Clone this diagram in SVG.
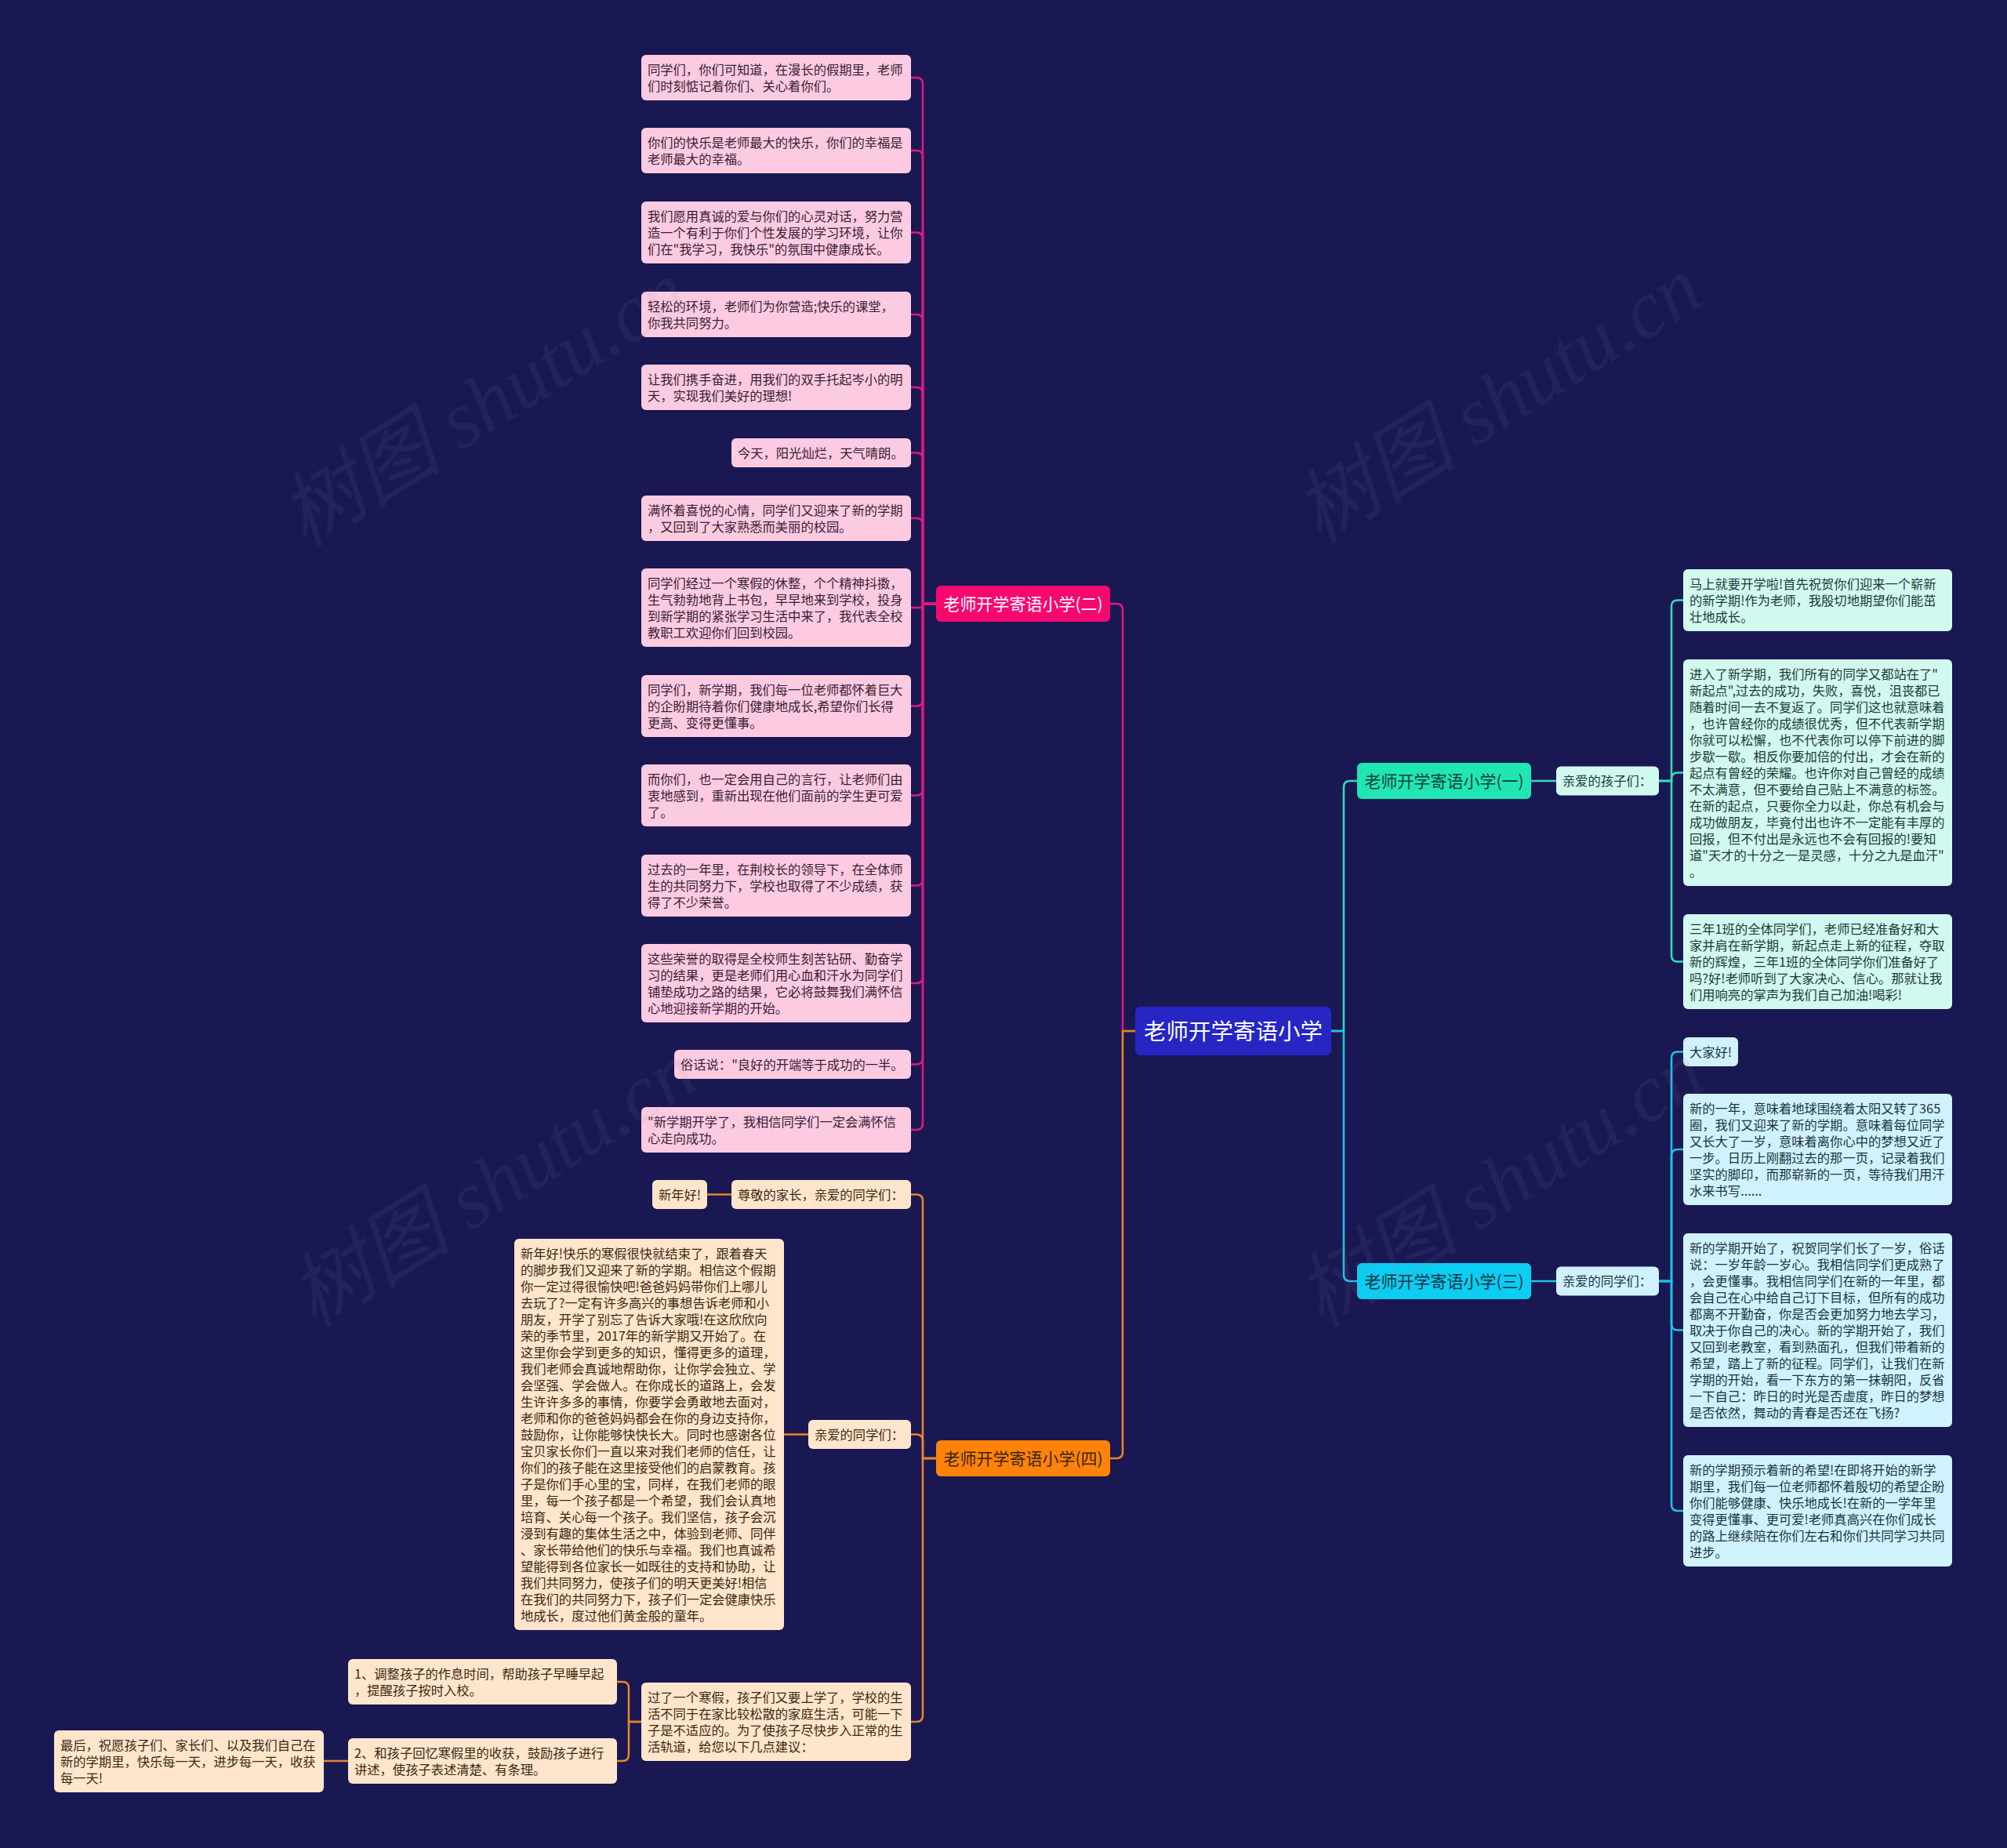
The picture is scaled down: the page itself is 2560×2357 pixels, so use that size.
<svg xmlns="http://www.w3.org/2000/svg" width="2560" height="2357" viewBox="0 0 2560 2357">
<style>
text{font-family:"Noto Sans CJK SC","Noto Sans",sans-serif;}
.t{font-size:16.3px;}
.pk{fill:#fccbe1;}
.pkt{fill:#3a2033;}
.or{fill:#fee5cb;}
.ort{fill:#3b2814;}
.mn{fill:#d1f9f0;}
.mnt{fill:#1d3a36;}
.cy{fill:#d0f2fc;}
.cyt{fill:#1b3440;}
.c{fill:none;stroke-width:2.6;stroke-linecap:round;}
.cp{stroke:#df1a7c;}
.co{stroke:#e8832a;}
.cm{stroke:#34dbb8;}
.cc{stroke:#1fc1e8;}
.wm{font-family:"Liberation Serif","Noto Sans CJK SC",serif;font-style:italic;font-size:104px;fill:#8a8aa8;opacity:0.09;text-anchor:middle;}
</style>
<rect width="2560" height="2357" fill="#1a1852"/>

<g id="connectors">
<path class="c cp" d="M1448,1315 H1432 V778 Q1432,770 1424,770 H1416"/>
<path class="c co" d="M1448,1315 H1432 V1852 Q1432,1860 1424,1860 H1416"/>
<path class="c cm" d="M1698,1315 H1714 V1004 Q1714,996 1722,996 H1731"/>
<path class="c cc" d="M1698,1315 H1714 V1626 Q1714,1634 1722,1634 H1731"/>

<path class="c cp" d="M1194,770 H1177 V107 Q1177,99 1169,99 H1162"/>
<path class="c cp" d="M1194,770 H1177 V200 Q1177,192 1169,192 H1162"/>
<path class="c cp" d="M1194,770 H1177 V304.5 Q1177,296.5 1169,296.5 H1162"/>
<path class="c cp" d="M1194,770 H1177 V409 Q1177,401 1169,401 H1162"/>
<path class="c cp" d="M1194,770 H1177 V502 Q1177,494 1169,494 H1162"/>
<path class="c cp" d="M1194,770 H1177 V585.5 Q1177,577.5 1169,577.5 H1162"/>
<path class="c cp" d="M1194,770 H1177 V669 Q1177,661 1169,661 H1162"/>
<path class="c cp" d="M1194,770 H1177 V772.5 Q1177,775 1174.5,775 H1162"/>
<path class="c cp" d="M1194,770 H1177 V892.5 Q1177,900.5 1169,900.5 H1162"/>
<path class="c cp" d="M1194,770 H1177 V1006.5 Q1177,1014.5 1169,1014.5 H1162"/>
<path class="c cp" d="M1194,770 H1177 V1121.5 Q1177,1129.5 1169,1129.5 H1162"/>
<path class="c cp" d="M1194,770 H1177 V1246 Q1177,1254 1169,1254 H1162"/>
<path class="c cp" d="M1194,770 H1177 V1349.5 Q1177,1357.5 1169,1357.5 H1162"/>
<path class="c cp" d="M1194,770 H1177 V1433 Q1177,1441 1169,1441 H1162"/>

<path class="c cm" d="M1953,996 H1985"/>
<path class="c cm" d="M2116,996 H2132 V773.5 Q2132,765.5 2140,765.5 H2147"/>
<path class="c cm" d="M2116,996 H2132 V993.5 Q2132,985.5 2140,985.5 H2147"/>
<path class="c cm" d="M2116,996 H2132 V1218.5 Q2132,1226.5 2140,1226.5 H2147"/>

<path class="c cc" d="M1953,1634 H1985"/>
<path class="c cc" d="M2116,1634 H2132 V1349.5 Q2132,1341.5 2140,1341.5 H2147"/>
<path class="c cc" d="M2116,1634 H2132 V1474 Q2132,1466 2140,1466 H2147"/>
<path class="c cc" d="M2116,1634 H2132 V1688.5 Q2132,1696.5 2140,1696.5 H2147"/>
<path class="c cc" d="M2116,1634 H2132 V1919 Q2132,1927 2140,1927 H2147"/>

<path class="c co" d="M1194,1860 H1177 V1531.5 Q1177,1523.5 1169,1523.5 H1162"/>
<path class="c co" d="M1194,1860 H1177 V1837.5 Q1177,1829.5 1169,1829.5 H1162"/>
<path class="c co" d="M1194,1860 H1177 V2188 Q1177,2196 1169,2196 H1162"/>
<path class="c co" d="M933,1523.5 H902"/>
<path class="c co" d="M1031,1829.5 H1000"/>
<path class="c co" d="M818,2196 H802 V2153 Q802,2145 794,2145 H787"/>
<path class="c co" d="M818,2196 H802 V2238 Q802,2246 794,2246 H787"/>
<path class="c co" d="M444,2246 H413"/>
</g>

<g id="root">
<rect x="1448" y="1284" width="250" height="62" rx="7" fill="#2626c4"/>
<text x="1573" y="1326" font-size="28.5" fill="#ffffff" text-anchor="middle">老师开学寄语小学</text>
</g>

<g id="b2">
<rect x="1194" y="747" width="222" height="46" rx="6" fill="#f5096f"/>
<text x="1305" y="778" font-size="21" fill="#ffffff" text-anchor="middle">老师开学寄语小学(二)</text>
</g>
<g id="b4">
<rect x="1194" y="1837" width="222" height="46" rx="6" fill="#ff8209"/>
<text x="1305" y="1868" font-size="21" fill="#3a2410" text-anchor="middle">老师开学寄语小学(四)</text>
</g>
<g id="b1">
<rect x="1731" y="973" width="222" height="46" rx="6" fill="#20e6b4"/>
<text x="1842" y="1004" font-size="21" fill="#0f3f35" text-anchor="middle">老师开学寄语小学(一)</text>
</g>
<g id="b3">
<rect x="1731" y="1611" width="222" height="46" rx="6" fill="#0ccdf2"/>
<text x="1842" y="1642" font-size="21" fill="#0c3343" text-anchor="middle">老师开学寄语小学(三)</text>
</g>

<g id="p1"><rect class="pk" x="818" y="70" width="344" height="58" rx="6"/>
<text class="t pkt" x="826" y="94.5"><tspan x="826">同学们，你们可知道，在漫长的假期里，老师</tspan><tspan x="826" dy="21">们时刻惦记着你们、关心着你们。</tspan></text></g>
<g id="p2"><rect class="pk" x="818" y="163" width="344" height="58" rx="6"/>
<text class="t pkt" x="826" y="187.5"><tspan x="826">你们的快乐是老师最大的快乐，你们的幸福是</tspan><tspan x="826" dy="21">老师最大的幸福。</tspan></text></g>
<g id="p3"><rect class="pk" x="818" y="257" width="344" height="79" rx="6"/>
<text class="t pkt" x="826" y="281.5"><tspan x="826">我们愿用真诚的爱与你们的心灵对话，努力营</tspan><tspan x="826" dy="21">造一个有利于你们个性发展的学习环境，让你</tspan><tspan x="826" dy="21">们在"我学习，我快乐"的氛围中健康成长。</tspan></text></g>
<g id="p4"><rect class="pk" x="818" y="372" width="344" height="58" rx="6"/>
<text class="t pkt" x="826" y="396.5"><tspan x="826">轻松的环境，老师们为你营造;快乐的课堂，</tspan><tspan x="826" dy="21">你我共同努力。</tspan></text></g>
<g id="p5"><rect class="pk" x="818" y="465" width="344" height="58" rx="6"/>
<text class="t pkt" x="826" y="489.5"><tspan x="826">让我们携手奋进，用我们的双手托起岑小的明</tspan><tspan x="826" dy="21">天，实现我们美好的理想!</tspan></text></g>
<g id="p6"><rect class="pk" x="933" y="559" width="229" height="37" rx="6"/>
<text class="t pkt" x="941" y="583.5">今天，阳光灿烂，天气晴朗。</text></g>
<g id="p7"><rect class="pk" x="818" y="632" width="344" height="58" rx="6"/>
<text class="t pkt" x="826" y="656.5"><tspan x="826">满怀着喜悦的心情，同学们又迎来了新的学期</tspan><tspan x="826" dy="21">，又回到了大家熟悉而美丽的校园。</tspan></text></g>
<g id="p8"><rect class="pk" x="818" y="725" width="344" height="100" rx="6"/>
<text class="t pkt" x="826" y="749.5"><tspan x="826">同学们经过一个寒假的休整，个个精神抖擞，</tspan><tspan x="826" dy="21">生气勃勃地背上书包，早早地来到学校，投身</tspan><tspan x="826" dy="21">到新学期的紧张学习生活中来了，我代表全校</tspan><tspan x="826" dy="21">教职工欢迎你们回到校园。</tspan></text></g>
<g id="p9"><rect class="pk" x="818" y="861" width="344" height="79" rx="6"/>
<text class="t pkt" x="826" y="885.5"><tspan x="826">同学们，新学期，我们每一位老师都怀着巨大</tspan><tspan x="826" dy="21">的企盼期待着你们健康地成长,希望你们长得</tspan><tspan x="826" dy="21">更高、变得更懂事。</tspan></text></g>
<g id="p10"><rect class="pk" x="818" y="975" width="344" height="79" rx="6"/>
<text class="t pkt" x="826" y="999.5"><tspan x="826">而你们，也一定会用自己的言行，让老师们由</tspan><tspan x="826" dy="21">衷地感到，重新出现在他们面前的学生更可爱</tspan><tspan x="826" dy="21">了。</tspan></text></g>
<g id="p11"><rect class="pk" x="818" y="1090" width="344" height="79" rx="6"/>
<text class="t pkt" x="826" y="1114.5"><tspan x="826">过去的一年里，在荆校长的领导下，在全体师</tspan><tspan x="826" dy="21">生的共同努力下，学校也取得了不少成绩，获</tspan><tspan x="826" dy="21">得了不少荣誉。</tspan></text></g>
<g id="p12"><rect class="pk" x="818" y="1204" width="344" height="100" rx="6"/>
<text class="t pkt" x="826" y="1228.5"><tspan x="826">这些荣誉的取得是全校师生刻苦钻研、勤奋学</tspan><tspan x="826" dy="21">习的结果，更是老师们用心血和汗水为同学们</tspan><tspan x="826" dy="21">铺垫成功之路的结果，它必将鼓舞我们满怀信</tspan><tspan x="826" dy="21">心地迎接新学期的开始。</tspan></text></g>
<g id="p13"><rect class="pk" x="860" y="1339" width="302" height="37" rx="6"/>
<text class="t pkt" x="868" y="1363.5">俗话说："良好的开端等于成功的一半。</text></g>
<g id="p14"><rect class="pk" x="818" y="1412" width="344" height="58" rx="6"/>
<text class="t pkt" x="826" y="1436.5"><tspan x="826">"新学期开学了，我相信同学们一定会满怀信</tspan><tspan x="826" dy="21">心走向成功。</tspan></text></g>

<g id="m0"><rect class="mn" x="1985" y="977.5" width="131" height="37" rx="6"/>
<text class="t mnt" x="1993" y="1002">亲爱的孩子们：</text></g>
<g id="m1"><rect class="mn" x="2147" y="726" width="343" height="79" rx="6"/>
<text class="t mnt" x="2155" y="750.5"><tspan x="2155">马上就要开学啦!首先祝贺你们迎来一个崭新</tspan><tspan x="2155" dy="21">的新学期!作为老师，我殷切地期望你们能茁</tspan><tspan x="2155" dy="21">壮地成长。</tspan></text></g>
<g id="m2"><rect class="mn" x="2147" y="841" width="343" height="289" rx="6"/>
<text class="t mnt" x="2155" y="865.5"><tspan x="2155">进入了新学期，我们所有的同学又都站在了"</tspan><tspan x="2155" dy="21">新起点",过去的成功，失败，喜悦，沮丧都已</tspan><tspan x="2155" dy="21">随着时间一去不复返了。同学们这也就意味着</tspan><tspan x="2155" dy="21">，也许曾经你的成绩很优秀，但不代表新学期</tspan><tspan x="2155" dy="21">你就可以松懈，也不代表你可以停下前进的脚</tspan><tspan x="2155" dy="21">步歇一歇。相反你要加倍的付出，才会在新的</tspan><tspan x="2155" dy="21">起点有曾经的荣耀。也许你对自己曾经的成绩</tspan><tspan x="2155" dy="21">不太满意，但不要给自己贴上不满意的标签。</tspan><tspan x="2155" dy="21">在新的起点，只要你全力以赴，你总有机会与</tspan><tspan x="2155" dy="21">成功做朋友，毕竟付出也许不一定能有丰厚的</tspan><tspan x="2155" dy="21">回报，但不付出是永远也不会有回报的!要知</tspan><tspan x="2155" dy="21">道"天才的十分之一是灵感，十分之九是血汗"</tspan><tspan x="2155" dy="21">。</tspan></text></g>
<g id="m3"><rect class="mn" x="2147" y="1166" width="343" height="121" rx="6"/>
<text class="t mnt" x="2155" y="1190.5"><tspan x="2155">三年1班的全体同学们，老师已经准备好和大</tspan><tspan x="2155" dy="21">家并肩在新学期，新起点走上新的征程，夺取</tspan><tspan x="2155" dy="21">新的辉煌，三年1班的全体同学你们准备好了</tspan><tspan x="2155" dy="21">吗?好!老师听到了大家决心、信心。那就让我</tspan><tspan x="2155" dy="21">们用响亮的掌声为我们自己加油!喝彩!</tspan></text></g>

<g id="s0"><rect class="cy" x="1985" y="1615.5" width="131" height="37" rx="6"/>
<text class="t cyt" x="1993" y="1640">亲爱的同学们：</text></g>
<g id="s1"><rect class="cy" x="2147" y="1323" width="70" height="37" rx="6"/>
<text class="t cyt" x="2155" y="1347.5">大家好!</text></g>
<g id="s2"><rect class="cy" x="2147" y="1395" width="343" height="142" rx="6"/>
<text class="t cyt" x="2155" y="1419.5"><tspan x="2155">新的一年，意味着地球围绕着太阳又转了365</tspan><tspan x="2155" dy="21">圈，我们又迎来了新的学期。意味着每位同学</tspan><tspan x="2155" dy="21">又长大了一岁，意味着离你心中的梦想又近了</tspan><tspan x="2155" dy="21">一步。日历上刚翻过去的那一页，记录着我们</tspan><tspan x="2155" dy="21">坚实的脚印，而那崭新的一页，等待我们用汗</tspan><tspan x="2155" dy="21">水来书写......</tspan></text></g>
<g id="s3"><rect class="cy" x="2147" y="1573" width="343" height="247" rx="6"/>
<text class="t cyt" x="2155" y="1597.5"><tspan x="2155">新的学期开始了，祝贺同学们长了一岁，俗话</tspan><tspan x="2155" dy="21">说：一岁年龄一岁心。我相信同学们更成熟了</tspan><tspan x="2155" dy="21">，会更懂事。我相信同学们在新的一年里，都</tspan><tspan x="2155" dy="21">会自己在心中给自己订下目标，但所有的成功</tspan><tspan x="2155" dy="21">都离不开勤奋，你是否会更加努力地去学习，</tspan><tspan x="2155" dy="21">取决于你自己的决心。新的学期开始了，我们</tspan><tspan x="2155" dy="21">又回到老教室，看到熟面孔，但我们带着新的</tspan><tspan x="2155" dy="21">希望，踏上了新的征程。同学们，让我们在新</tspan><tspan x="2155" dy="21">学期的开始，看一下东方的第一抹朝阳，反省</tspan><tspan x="2155" dy="21">一下自己：昨日的时光是否虚度，昨日的梦想</tspan><tspan x="2155" dy="21">是否依然，舞动的青春是否还在飞扬?</tspan></text></g>
<g id="s4"><rect class="cy" x="2147" y="1856" width="343" height="142" rx="6"/>
<text class="t cyt" x="2155" y="1880.5"><tspan x="2155">新的学期预示着新的希望!在即将开始的新学</tspan><tspan x="2155" dy="21">期里，我们每一位老师都怀着殷切的希望企盼</tspan><tspan x="2155" dy="21">你们能够健康、快乐地成长!在新的一学年里</tspan><tspan x="2155" dy="21">变得更懂事、更可爱!老师真高兴在你们成长</tspan><tspan x="2155" dy="21">的路上继续陪在你们左右和你们共同学习共同</tspan><tspan x="2155" dy="21">进步。</tspan></text></g>

<g id="o1"><rect class="or" x="933" y="1505" width="229" height="37" rx="6"/>
<text class="t ort" x="941" y="1529.5">尊敬的家长，亲爱的同学们：</text></g>
<g id="o1a"><rect class="or" x="832" y="1505" width="70" height="37" rx="6"/>
<text class="t ort" x="840" y="1529.5">新年好!</text></g>
<g id="o2"><rect class="or" x="1031" y="1811" width="131" height="37" rx="6"/>
<text class="t ort" x="1039" y="1835.5">亲爱的同学们：</text></g>
<g id="o2a"><rect class="or" x="656" y="1580" width="344" height="499" rx="6"/>
<text class="t ort" x="664" y="1604.5"><tspan x="664">新年好!快乐的寒假很快就结束了，跟着春天</tspan><tspan x="664" dy="21">的脚步我们又迎来了新的学期。相信这个假期</tspan><tspan x="664" dy="21">你一定过得很愉快吧!爸爸妈妈带你们上哪儿</tspan><tspan x="664" dy="21">去玩了?一定有许多高兴的事想告诉老师和小</tspan><tspan x="664" dy="21">朋友，开学了别忘了告诉大家哦!在这欣欣向</tspan><tspan x="664" dy="21">荣的季节里，2017年的新学期又开始了。在</tspan><tspan x="664" dy="21">这里你会学到更多的知识，懂得更多的道理，</tspan><tspan x="664" dy="21">我们老师会真诚地帮助你，让你学会独立、学</tspan><tspan x="664" dy="21">会坚强、学会做人。在你成长的道路上，会发</tspan><tspan x="664" dy="21">生许许多多的事情，你要学会勇敢地去面对，</tspan><tspan x="664" dy="21">老师和你的爸爸妈妈都会在你的身边支持你，</tspan><tspan x="664" dy="21">鼓励你，让你能够快快长大。同时也感谢各位</tspan><tspan x="664" dy="21">宝贝家长你们一直以来对我们老师的信任，让</tspan><tspan x="664" dy="21">你们的孩子能在这里接受他们的启蒙教育。孩</tspan><tspan x="664" dy="21">子是你们手心里的宝，同样，在我们老师的眼</tspan><tspan x="664" dy="21">里，每一个孩子都是一个希望，我们会认真地</tspan><tspan x="664" dy="21">培育、关心每一个孩子。我们坚信，孩子会沉</tspan><tspan x="664" dy="21">浸到有趣的集体生活之中，体验到老师、同伴</tspan><tspan x="664" dy="21">、家长带给他们的快乐与幸福。我们也真诚希</tspan><tspan x="664" dy="21">望能得到各位家长一如既往的支持和协助，让</tspan><tspan x="664" dy="21">我们共同努力，使孩子们的明天更美好!相信</tspan><tspan x="664" dy="21">在我们的共同努力下，孩子们一定会健康快乐</tspan><tspan x="664" dy="21">地成长，度过他们黄金般的童年。</tspan></text></g>
<g id="o3"><rect class="or" x="818" y="2146" width="344" height="100" rx="6"/>
<text class="t ort" x="826" y="2170.5"><tspan x="826">过了一个寒假，孩子们又要上学了，学校的生</tspan><tspan x="826" dy="21">活不同于在家比较松散的家庭生活，可能一下</tspan><tspan x="826" dy="21">子是不适应的。为了使孩子尽快步入正常的生</tspan><tspan x="826" dy="21">活轨道，给您以下几点建议：</tspan></text></g>
<g id="o3a"><rect class="or" x="444" y="2116" width="343" height="58" rx="6"/>
<text class="t ort" x="452" y="2140.5"><tspan x="452">1、调整孩子的作息时间，帮助孩子早睡早起</tspan><tspan x="452" dy="21">，提醒孩子按时入校。</tspan></text></g>
<g id="o3b"><rect class="or" x="444" y="2217" width="343" height="58" rx="6"/>
<text class="t ort" x="452" y="2241.5"><tspan x="452">2、和孩子回忆寒假里的收获，鼓励孩子进行</tspan><tspan x="452" dy="21">讲述，使孩子表述清楚、有条理。</tspan></text></g>
<g id="o3c"><rect class="or" x="69" y="2207" width="344" height="79" rx="6"/>
<text class="t ort" x="77" y="2231.5"><tspan x="77">最后，祝愿孩子们、家长们、以及我们自己在</tspan><tspan x="77" dy="21">新的学期里，快乐每一天，进步每一天，收获</tspan><tspan x="77" dy="21">每一天!</tspan></text></g>

<g id="watermarks">
<text class="wm" transform="translate(636,545) rotate(-32)">树图 shutu.cn</text>
<text class="wm" transform="translate(1930,540) rotate(-32)">树图 shutu.cn</text>
<text class="wm" transform="translate(648,1540) rotate(-32)">树图 shutu.cn</text>
<text class="wm" transform="translate(1933,1540) rotate(-32)">树图 shutu.cn</text>
</g>
</svg>
